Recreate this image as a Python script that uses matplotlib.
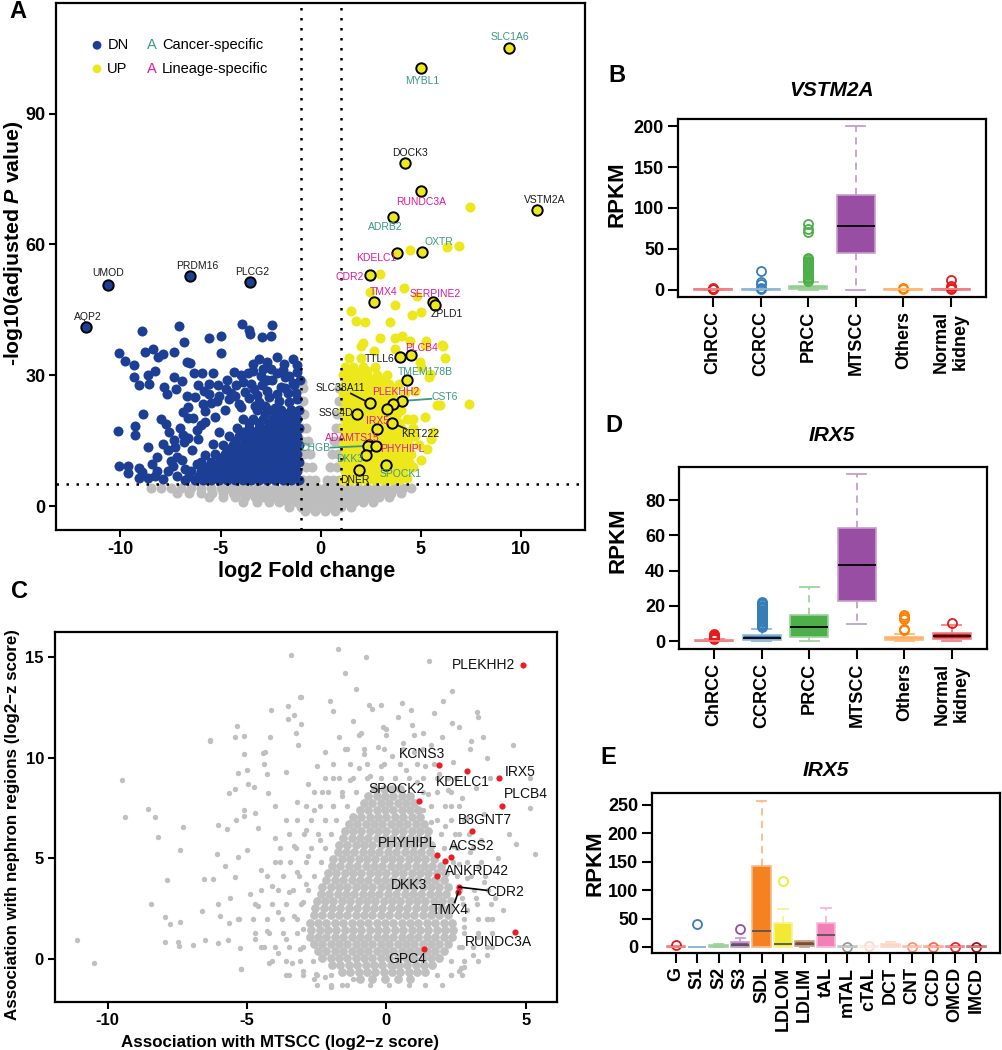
import matplotlib
matplotlib.use('Agg')
import matplotlib.pyplot as plt
from matplotlib.colors import to_rgb

plt.rcParams['font.family'] = ['Liberation Sans', 'DejaVu Sans']
plt.rcParams['axes.unicode_minus'] = False
plt.rcParams['mathtext.fontset'] = 'custom'
plt.rcParams['mathtext.it'] = 'Liberation Sans:italic:bold'
plt.rcParams['mathtext.rm'] = 'Liberation Sans:bold'

W, H = 1002, 1050

# ---------------- panel A: volcano (log2 FC, -log10 adj P) ----------------
dn_points = [(-7.09, 41.4), (-8.92, 40.1), (-3.95, 41.8), (-2.41, 41.6), (-3.57, 40.3), (-3.52, 39.4),
             (-2.94, 38.7), (-2.46, 39.0), (-4.98, 38.9), (-5.56, 38.5), (-6.83, 37.6), (-10.05, 35.0),
             (-9.75, 33.2), (-9.3, 32.4), (-8.77, 35.4), (-8.39, 36.0), (-8.14, 34.2), (-7.86, 34.8),
             (-7.31, 35.4), (-6.68, 33.0), (-6.54, 32.8), (-6.31, 30.5), (-5.95, 30.5), (-5.37, 30.5),
             (-4.98, 35.0), (-4.35, 30.7), (-3.99, 30.1), (-3.65, 30.5), (-3.37, 32.6), (-3.07, 33.8),
             (-2.66, 33.0), (-2.18, 34.2), (-1.83, 32.6), (-1.40, 33.8), (-1.33, 27.7), (-1.05, 28.9),
             (-9.3, 29.7), (-9.09, 27.7), (-8.64, 30.1), (-8.59, 28.1), (-8.26, 30.9), (-7.81, 27.3),
             (-7.67, 25.6), (-7.34, 29.7), (-7.23, 26.8), (-6.93, 28.6), (-6.69, 25.2), (-6.64, 22.7),
             (-6.15, 27.7), (-5.81, 26.4), (-5.56, 28.1), (-5.15, 27.8), (-4.73, 26.8), (-4.49, 26.0),
             (-4.24, 27.7), (-3.32, 26.8), (-2.91, 27.7), (-2.41, 28.9), (-2.0, 27.3), (-1.63, 26.0),
             (-1.23, 26.0), (-10.13, 17.2), (-9.25, 18.4), (-9.25, 16.2), (-8.89, 21.1), (-8.64, 13.6),
             (-10.05, 9.2), (-9.63, 9.2), (-9.6, 7.6), (-9.09, 8.7), (-9.09, 6.4), (-8.64, 6.5),
             (-8.42, 9.7), (-8.17, 11.3), (-8.17, 8.0), (-8.0, 19.9), (-7.72, 18.8), (-7.56, 17.0),
             (-7.61, 12.8), (-7.89, 14.2), (-7.64, 8.0), (-7.39, 9.2), (-7.31, 15.1), (-7.18, 11.3),
             (-7.04, 17.8), (-6.89, 21.5), (-6.64, 20.1), (-6.84, 14.6), (-6.61, 15.7), (-6.4, 20.3),
             (-6.45, 12.9), (-6.18, 9.7), (-6.15, 15.4), (-5.98, 18.5), (-5.76, 21.9), (-5.78, 11.7),
             (-5.48, 23.6), (-5.4, 14.2), (-5.07, 17.0), (-5.23, 8.0), (-4.6, 24.5), (-4.1, 23.5),
             (-3.6, 24.8), (-3.1, 23.8), (-2.6, 25.0), (-2.1, 24.2), (-1.6, 23.9), (-1.2, 24.5),
             (-3.9, 28.5), (-3.0, 29.8), (-2.2, 30.5), (-1.6, 29.8), (-1.2, 30.8), (-2.5, 31.5),
             (-3.5, 28.0), (-5.2, 24.0), (-5.9, 23.5), (-6.3, 25.0), (-4.8, 22.0), (-5.3, 20.5),
             (-5.8, 19.2), (-6.2, 17.5), (-6.9, 16.4), (-7.3, 13.5), (-6.95, 10.5), (-7.5, 10.4),
             (-7.9, 6.2), (-8.3, 7.0), (-8.9, 7.9), (-7.2, 7.0), (-6.8, 8.6), (-5.6, 25.8),
             (-3.3, 22.9), (-2.3, 22.6), (-4.3, 25.2), (-3.8, 26.2), (-3.2, 25.5), (-2.7, 26.5),
             (-2.2, 25.8), (-1.8, 27.0), (-1.4, 28.2), (-1.8, 29.5), (-2.7, 29.0), (-3.4, 30.9),
             (-4.7, 29.0), (-5.1, 25.3), (-4.0, 22.8), (-2.8, 23.0), (-1.5, 22.0), (-1.9, 31.2),
             (-1.2, 32.3), (-2.9, 31.5)]

dn_core_rows = [
    (6, [-1.1, -1.5, -1.9, -2.3, -2.7, -3.1, -3.5, -3.9, -4.3, -4.7, -5.1, -5.5, -5.9, -6.3, -6.8]),
    (7, [-1.3, -1.7, -2.1, -2.5, -2.9, -3.3, -3.7, -4.1, -4.5, -4.9, -5.3, -5.7, -6.1, -6.6]),
    (8, [-1.2, -1.6, -2.0, -2.4, -2.8, -3.2, -3.6, -4.0, -4.4, -4.8, -5.2, -5.6, -6.0, -6.5]),
    (9, [-1.3, -1.7, -2.1, -2.5, -2.9, -3.3, -3.7, -4.1, -4.5, -4.9, -5.3, -5.8]),
    (10, [-1.1, -1.5, -1.9, -2.3, -2.7, -3.1, -3.5, -3.9, -4.3, -4.7, -5.1, -5.5, -6.0]),
    (11, [-1.3, -1.7, -2.1, -2.5, -2.9, -3.3, -3.7, -4.1, -4.5, -5.0]),
    (12, [-1.2, -1.6, -2.0, -2.4, -2.8, -3.2, -3.6, -4.0, -4.4, -4.8, -5.3]),
    (13, [-1.3, -1.7, -2.1, -2.5, -2.9, -3.3, -3.7, -4.2, -4.7]),
    (14, [-1.1, -1.5, -1.9, -2.3, -2.7, -3.1, -3.5, -3.9, -4.4, -4.9]),
    (15, [-1.3, -1.7, -2.1, -2.5, -2.9, -3.3, -3.8, -4.3]),
    (16, [-1.2, -1.6, -2.0, -2.4, -2.8, -3.2, -3.6, -4.1, -4.6]),
    (17, [-1.3, -1.7, -2.1, -2.5, -2.9, -3.4, -3.9]),
    (18, [-1.1, -1.5, -1.9, -2.3, -2.7, -3.1, -3.6, -4.2]),
    (19, [-1.3, -1.7, -2.1, -2.6, -3.1, -3.6]),
    (20, [-1.2, -1.6, -2.0, -2.4, -2.9, -3.4, -3.9]),
    (21, [-1.3, -1.8, -2.3, -2.8]),
    (22, [-1.1, -1.5, -2.0, -2.6, -3.2]),
]

up_points = [(5.95, 23.1), (7.39, 23.3), (5.2, 20.5), (5.6, 17.0), (4.9, 14.0), (5.3, 13.0), (4.7, 26.5),
             (5.4, 29.5), (5.0, 32.0), (6.12, 36.8), (6.2, 34.0), (5.24, 37.8), (4.47, 37.8), (3.71, 38.6),
             (2.95, 38.6), (2.02, 36.7), (2.66, 35.5), (3.71, 36.1), (1.51, 44.8), (1.76, 42.4), (2.22, 42.2),
             (3.47, 42.3), (4.56, 43.9), (5.03, 44.5), (4.8, 48.1), (3.73, 46.1), (2.47, 49.1), (4.15, 50.0),
             (2.98, 53.3), (4.47, 58.7), (6.29, 59.4), (6.92, 59.6), (7.46, 68.7), (5.8, 23.2), (5.47, 30.4),
             (4.63, 20.0), (5.5, 15.3), (4.63, 16.1), (4.97, 33.1), (5.22, 37.0), (4.05, 39.0), (2.13, 37.4),
             (6.05, 37.0), (4.6, 9.0), (5.0, 10.5), (4.3, 6.5)]

up_core_rows = [
    (6, [1.1, 1.5, 1.9, 2.3, 2.7, 3.1, 3.5, 3.9]),
    (7, [1.3, 1.7, 2.1, 2.5, 2.9, 3.3, 3.7]),
    (8, [1.2, 1.6, 2.0, 2.4, 2.8, 3.2, 3.6, 4.1]),
    (9, [1.3, 1.7, 2.1, 2.5, 2.9, 3.3, 3.7, 4.2]),
    (10, [1.1, 1.5, 1.9, 2.3, 2.7, 3.1, 3.5, 3.9, 4.4]),
    (11, [1.3, 1.7, 2.1, 2.5, 2.9, 3.3, 3.8, 4.2]),
    (12, [1.2, 1.6, 2.0, 2.4, 2.8, 3.2, 3.6, 4.0, 4.5]),
    (13, [1.3, 1.7, 2.1, 2.5, 2.9, 3.3, 3.7, 4.2]),
    (14, [1.1, 1.5, 1.9, 2.3, 2.7, 3.1, 3.5, 3.9, 4.4]),
    (15, [1.3, 1.7, 2.1, 2.5, 2.9, 3.3, 3.8, 4.3]),
    (16, [1.2, 1.6, 2.0, 2.4, 2.8, 3.2, 3.6, 4.1, 4.7]),
    (17, [1.3, 1.7, 2.1, 2.5, 2.9, 3.3, 3.8, 4.3]),
    (18, [1.1, 1.5, 1.9, 2.3, 2.7, 3.1, 3.5, 4.0, 4.6]),
    (19, [1.3, 1.7, 2.1, 2.5, 2.9, 3.4, 3.9]),
    (20, [1.2, 1.6, 2.0, 2.4, 2.8, 3.2, 3.7, 4.3]),
    (21, [1.3, 1.7, 2.1, 2.5, 2.9, 3.3, 3.8]),
    (22, [1.1, 1.5, 1.9, 2.3, 2.7, 3.1, 3.5, 4.0]),
    (23, [1.3, 1.7, 2.1, 2.5, 3.0, 3.5]),
    (24, [1.2, 1.6, 2.0, 2.4, 2.8, 3.3, 3.8]),
    (25, [1.3, 1.7, 2.1, 2.5, 2.9, 3.4]),
    (26, [1.1, 1.5, 1.9, 2.3, 2.7, 3.1, 3.6, 4.2]),
    (27, [1.3, 1.7, 2.1, 2.5, 3.0, 3.6]),
    (28, [1.2, 1.6, 2.0, 2.4, 2.9, 3.4, 3.9]),
    (29, [1.3, 1.7, 2.1, 2.6, 3.1]),
    (30, [1.1, 1.5, 1.9, 2.3, 2.8, 3.3]),
    (31, [1.3, 1.7, 2.3]),
    (32, [1.2, 1.6, 2.1, 2.7]),
    (34, [1.4, 2.0]),
]

ns_rows = [
    (4.2, [-8.5, -8.0, -7.5, -7.0, -6.5, -6.0, -5.5, -5.0, -4.55, -4.1, -3.65, -3.2, -2.75, -2.3, -1.85, -1.4,
           -0.95, -0.55, -0.2, 0.2, 0.55, 0.95, 1.4, 1.85, 2.3, 2.75, 3.2, 3.65, 4.1, 4.5]),
    (3.1, [-7.2, -6.6, -6.0, -5.45, -4.9, -4.4, -3.9, -3.45, -3.0, -2.55, -2.1, -1.65, -1.2, -0.75, -0.35, 0.0,
           0.35, 0.75, 1.2, 1.65, 2.1, 2.55, 3.0, 3.5, 4.0]),
    (2.0, [-5.6, -4.9, -4.3, -3.8, -3.3, -2.85, -2.4, -1.95, -1.5, -1.05, -0.6, -0.2, 0.2, 0.6, 1.05, 1.5,
           1.95, 2.4, 2.9, 3.4]),
    (0.9, [-3.9, -3.2, -2.6, -2.1, -1.65, -1.2, -0.8, -0.4, 0.0, 0.4, 0.8, 1.2, 1.65, 2.1, 2.6]),
    (-0.2, [-1.6, -1.0, -0.5, 0.0, 0.5, 1.0, 1.5]),
    (-1.2, [-0.8, -0.3, 0.2, 0.7]),
]
ns_points = [(-0.3, 6), (-0.6, 6), (-0.9, 6), (-0.45, 9), (-0.75, 9), (-0.55, 12), (-0.85, 12), (-0.65, 15),
             (-0.92, 15), (-0.75, 18), (-0.95, 18), (-0.85, 21), (-0.9, 24), (-0.88, 27), (-0.92, 28.5),
             (0.3, 6), (0.6, 6), (0.9, 6), (0.45, 9), (0.8, 9), (0.55, 12), (0.85, 12), (0.65, 15), (0.9, 15),
             (0.75, 18), (0.95, 18), (0.82, 21), (0.9, 24), (0.92, 27)]

dn_genes = ['UMOD', 'PRDM16', 'PLCG2', 'AQP2']
dn_fc = [-10.63, -6.51, -3.52, -11.7]
dn_p = [50.8, 52.8, 51.4, 41.1]

up_genes = ['SLC1A6', 'MYBL1', 'DOCK3', 'RUNDC3A', 'VSTM2A', 'ADRB2', 'OXTR', 'KDELC1', 'CDR2', 'TMX4',
            'SERPINE2', 'ZPLD1', 'PLCB4', 'TTLL6', 'TMEM178B', 'CST6', 'PLEKHH2', '', 'SLC38A11', 'SSC4D',
            'KRT222', 'IRX5', 'ADAMTS15', 'CHGB', 'PHYHIPL', 'DKK3', 'DNER', 'SPOCK1']
up_fc = [9.42, 5.0, 4.22, 5.03, 10.8, 3.62, 5.05, 3.82, 2.45, 2.68, 5.6, 5.71, 4.5, 3.96, 4.3, 4.07, 3.6, 3.3,
         2.45, 1.79, 3.56, 2.83, 2.43, 2.38, 2.74, 2.24, 1.89, 3.26]
up_p = [105.1, 100.5, 78.6, 72.2, 67.9, 66.4, 58.3, 58.0, 53.0, 46.8, 46.8, 46.1, 34.7, 34.1, 28.9, 24.1, 23.4,
        22.3, 23.6, 21.0, 19.1, 17.7, 14.0, 13.8, 13.8, 11.6, 8.3, 9.35]
up_class = ['cancer', 'cancer', 'none', 'lineage', 'none', 'cancer', 'cancer', 'lineage', 'lineage', 'lineage',
            'lineage', 'none', 'lineage', 'none', 'cancer', 'cancer', 'lineage', 'none', 'none', 'none',
            'none', 'lineage', 'lineage', 'cancer', 'lineage', 'cancer', 'none', 'cancer']

# ---------------- panel C: association scatter ----------------
assoc_outer = [(-11.1, 0.91), (-10.48, -0.22), (-9.5, 8.87), (-9.38, 7.04), (-8.57, 7.46), (-8.3, 7.04),
               (-8.18, 6.05), (-8.45, 2.73), (-7.88, 3.93), (-7.96, 2.07), (-7.75, 1.74), (-7.4, 1.81),
               (-7.94, 0.81), (-7.48, 0.81), (-7.45, 0.61), (-6.94, 0.66), (-7.28, 6.55), (-7.4, 5.42),
               (-6.32, 10.86), (-6.62, 2.35), (-6.5, 0.91), (-6.53, 3.96), (-6.22, 3.98), (-6.07, 5.22),
               (-6.05, 6.63), (-5.72, 6.45), (-5.66, 8.24), (-5.42, 8.45), (-5.36, 11.55), (-5.44, 11.02),
               (-5.32, 9.23), (-5.1, 10.19), (-5.0, 9.37), (-4.96, 8.7), (-6.05, 2.73), (-5.96, 2.1),
               (-5.66, 1.77), (-5.34, 1.97), (-6.05, 0.78), (-5.68, 0.94), (-5.26, 0.53), (-5.22, -0.5),
               (-5.42, 4.06), (-5.34, 5.06), (-5.38, 6.91), (-5.12, 7.38), (-4.76, 8.54), (-4.7, 7.24),
               (-4.34, 10.26), (-4.38, 9.7), (-4.28, 9.2), (-4.24, 8.24), (-4.16, 11.02), (-4.14, 12.38),
               (-3.54, 12.58), (-3.44, 15.08), (-3.32, 12.1), (-3.23, 11.22), (-3.17, 10.64), (-3.05, 11.69),
               (-3.08, 13.01), (-1.74, 15.39), (-0.73, 15.0), (1.54, 14.8), (-1.1, 13.4), (2.34, 13.3),
               (-3.09, 13.0), (-2.02, 12.8), (-0.62, 12.6), (-0.19, 12.6), (0.55, 12.7), (2.03, 12.8),
               (3.26, 12.27), (0.89, 12.37), (-1.92, 12.3), (-3.54, 11.9), (-0.14, 11.5), (2.34, 11.7),
               (4.53, 10.6), (3.46, 11.0), (3.02, 10.8), (-6.33, 10.8), (-5.1, 11.05), (-4.41, 10.25),
               (5.15, 9.0), (5.15, 7.49), (5.32, 5.23), (4.66, 5.72), (3.63, 2.0), (3.6, 0.2), (2.66, -0.44),
               (-1.99, -1.4), (0.27, -0.35), (-1.03, -1.02), (-5.22, -0.49), (-2.54, -0.78), (-1.5, 14.2)]

assoc_mid = [(-3.0, -0.6), (-3.4, -0.2), (-3.9, 0.3), (-3.1, 0.5), (-3.6, 1.0), (-4.3, 1.4), (-3.0, 1.5),
             (-3.3, 2.1), (-3.9, 2.3), (-4.6, 2.6), (-3.0, 2.8), (-3.5, 3.3), (-4.1, 3.6), (-2.9, 3.7),
             (-3.2, 4.3), (-3.8, 4.8), (-4.5, 4.4), (-2.8, 5.1), (-3.3, 5.6), (-2.4, 5.9), (-4.0, 6.0),
             (-2.9, 6.4), (-3.6, 6.9), (-2.2, 6.9), (-2.6, 7.4), (-3.2, 7.8), (-1.9, 7.6), (-2.3, 8.3),
             (-2.8, 8.7), (-1.6, 8.1), (-1.9, 9.0), (-1.3, 8.9), (-2.5, 9.6), (-3.6, 9.3), (-4.0, 7.6),
             (-4.6, 6.5), (-5.0, 5.4), (-4.9, 3.2), (-5.3, 2.0), (-4.7, 1.0), (-4.2, -0.2), (-3.6, -0.8),
             (-2.6, -1.0), (-2.2, -0.9), (-1.6, -1.3), (-1.2, -1.0), (-4.4, 0.6), (-5.6, 3.0), (-5.8, 4.6),
             (-5.1, 7.1), (-1.0, 9.5), (-0.6, 9.1), (-0.2, 9.6), (0.3, 9.0), (0.7, 9.4), (1.1, 8.8),
             (1.4, 9.6), (-0.8, 10.2), (-0.3, 10.5), (0.2, 10.1), (0.6, 10.7), (1.0, 10.3), (1.6, 10.6),
             (-1.4, 10.4), (-1.7, 11.0), (-0.9, 11.2), (0.0, 11.4), (0.9, 11.6), (1.3, 11.2), (2.0, 11.0),
             (-2.2, 10.3), (-1.2, 11.8), (0.4, 12.0), (1.7, 12.2), (-0.5, 12.4), (2.4, 9.8), (1.9, 9.2),
             (2.2, 8.4), (1.5, 8.2), (1.3, 7.4), (1.6, 6.8), (2.6, -0.6), (2.8, -0.4), (2.3, -0.8),
             (3.1, 0.2), (2.7, 0.6), (3.3, 1.1), (2.8, 1.6), (3.6, 2.0), (2.9, 2.4), (3.2, 3.0), (2.7, 3.0),
             (3.5, 3.8), (2.9, 4.0), (3.3, 4.6), (2.6, 4.7), (3.0, 5.3), (2.4, 5.6), (3.4, 5.9), (2.6, 6.2),
             (2.1, 6.6), (2.9, 7.0), (3.5, 7.2), (2.3, 7.6), (2.7, 8.0), (3.2, 8.5), (2.5, 9.0), (3.7, 9.0),
             (3.9, 3.0), (4.2, 2.4), (3.8, 0.6), (4.0, 5.0), (4.4, 6.2), (3.6, 10.0), (3.0, 10.4),
             (2.6, 11.5), (3.3, 12.0)]

assoc_ring_rows = [
    (-1.3, [-2.5, -2.0, -1.4, -0.6, 0.1, 0.8, 1.4, 2.0]),
    (-0.8, [-3.5, -3.0, -2.5, -2.0, 1.8, 2.3, 2.7]),
    (-0.1, [-4.1, -3.6, -3.1, -2.65, 2.3, 2.8, 3.3]),
    (0.6, [-4.5, -4.0, -3.5, -3.0, 2.6, 3.1, 3.6]),
    (1.3, [-4.7, -4.2, -3.7, -3.2, 2.8, 3.3, 3.8]),
    (2.0, [-4.8, -4.3, -3.75, -3.2, 2.8, 3.3, 3.8]),
    (2.7, [-4.7, -4.1, -3.6, -3.05, 2.75, 3.25, 3.75]),
    (3.4, [-4.5, -3.9, -3.35, -2.8, 2.65, 3.15, 3.65]),
    (4.1, [-4.3, -3.7, -3.15, -2.6, 2.55, 3.05, 3.55]),
    (4.8, [-4.0, -3.45, -2.9, -2.35, 2.4, 2.9, 3.4]),
    (5.5, [-3.8, -3.25, -2.7, -2.2, 2.05, 2.55, 3.1]),
    (6.2, [-3.5, -2.95, -2.45, -2.0, 1.95, 2.45, 2.95]),
    (6.9, [-3.2, -2.7, -2.2, -1.8, 1.8, 2.3, 2.8]),
    (7.6, [-2.9, -2.4, -1.9, -1.4, 1.6, 2.1, 2.6]),
    (8.3, [-2.6, -2.1, -1.6, -1.1, 1.3, 1.8, 2.3]),
    (9.0, [-2.2, -1.7, -1.2, -0.7, -0.2, 0.3, 0.8, 1.3, 1.8, 2.2]),
    (9.7, [-1.9, -1.3, -0.7, -0.1, 0.5, 1.1, 1.7]),
    (10.4, [-1.5, -0.8, -0.1, 0.6, 1.3]),
    (11.1, [-1.0, 0.0, 1.0]),
]

assoc_core_rows = [
    (-1.0, [-0.95, -0.5, -0.05, 0.4, 0.85]),
    (-0.65, [-1.6, -1.3, -1.0, -0.7, -0.4, -0.1, 0.2, 0.5, 0.8, 1.1, 1.4]),
    (-0.3, [-1.95, -1.65, -1.35, -1.05, -0.75, -0.45, -0.15, 0.15, 0.45, 0.75, 1.05, 1.35, 1.65]),
    (0.05, [-2.3, -2.0, -1.7, -1.4, -1.1, -0.8, -0.5, -0.2, 0.1, 0.4, 0.7, 1.0, 1.3, 1.6, 1.9]),
    (0.4, [-2.45, -2.15, -1.85, -1.55, -1.25, -0.95, -0.65, -0.35, -0.05, 0.25, 0.55, 0.85, 1.15, 1.45, 1.75, 2.05]),
    (0.75, [-2.6, -2.3, -2.0, -1.7, -1.4, -1.1, -0.8, -0.5, -0.2, 0.1, 0.4, 0.7, 1.0, 1.3, 1.6, 1.9, 2.2]),
    (1.1, [-2.75, -2.45, -2.15, -1.85, -1.55, -1.25, -0.95, -0.65, -0.35, -0.05, 0.25, 0.55, 0.85, 1.15, 1.45,
           1.75, 2.05, 2.35]),
    (1.45, [-2.7, -2.4, -2.1, -1.8, -1.5, -1.2, -0.9, -0.6, -0.3, 0.0, 0.3, 0.6, 0.9, 1.2, 1.5, 1.8, 2.1, 2.4]),
    (1.8, [-2.75, -2.45, -2.15, -1.85, -1.55, -1.25, -0.95, -0.65, -0.35, -0.05, 0.25, 0.55, 0.85, 1.15, 1.45,
           1.75, 2.05, 2.35]),
    (2.15, [-2.6, -2.3, -2.0, -1.7, -1.4, -1.1, -0.8, -0.5, -0.2, 0.1, 0.4, 0.7, 1.0, 1.3, 1.6, 1.9, 2.2]),
    (2.5, [-2.55, -2.25, -1.95, -1.65, -1.35, -1.05, -0.75, -0.45, -0.15, 0.15, 0.45, 0.75, 1.05, 1.35, 1.65,
           1.95, 2.25]),
    (2.85, [-2.5, -2.2, -1.9, -1.6, -1.3, -1.0, -0.7, -0.4, -0.1, 0.2, 0.5, 0.8, 1.1, 1.4, 1.7, 2.0, 2.3]),
    (3.2, [-2.35, -2.05, -1.75, -1.45, -1.15, -0.85, -0.55, -0.25, 0.05, 0.35, 0.65, 0.95, 1.25, 1.55, 1.85, 2.15]),
    (3.55, [-2.3, -2.0, -1.7, -1.4, -1.1, -0.8, -0.5, -0.2, 0.1, 0.4, 0.7, 1.0, 1.3, 1.6, 1.9, 2.2]),
    (3.9, [-2.15, -1.85, -1.55, -1.25, -0.95, -0.65, -0.35, -0.05, 0.25, 0.55, 0.85, 1.15, 1.45, 1.75, 2.05]),
    (4.25, [-2.1, -1.8, -1.5, -1.2, -0.9, -0.6, -0.3, 0.0, 0.3, 0.6, 0.9, 1.2, 1.5, 1.8, 2.1]),
    (4.6, [-1.95, -1.65, -1.35, -1.05, -0.75, -0.45, -0.15, 0.15, 0.45, 0.75, 1.05, 1.35, 1.65, 1.95]),
    (4.95, [-1.9, -1.6, -1.3, -1.0, -0.7, -0.4, -0.1, 0.2, 0.5, 0.8, 1.1, 1.4, 1.7]),
    (5.3, [-1.75, -1.45, -1.15, -0.85, -0.55, -0.25, 0.05, 0.35, 0.65, 0.95, 1.25, 1.55]),
    (5.65, [-1.7, -1.4, -1.1, -0.8, -0.5, -0.2, 0.1, 0.4, 0.7, 1.0, 1.3, 1.6]),
    (6.0, [-1.55, -1.25, -0.95, -0.65, -0.35, -0.05, 0.25, 0.55, 0.85, 1.15, 1.45]),
    (6.35, [-1.5, -1.2, -0.9, -0.6, -0.3, 0.0, 0.3, 0.6, 0.9, 1.2, 1.5]),
    (6.7, [-1.35, -1.05, -0.75, -0.45, -0.15, 0.15, 0.45, 0.75, 1.05, 1.35]),
    (7.05, [-1.2, -0.9, -0.6, -0.3, 0.0, 0.3, 0.6, 0.9, 1.2]),
    (7.4, [-0.95, -0.65, -0.35, -0.05, 0.25, 0.55, 0.85, 1.15]),
    (7.75, [-0.8, -0.5, -0.2, 0.1, 0.4, 0.7, 1.0]),
    (8.1, [-0.65, -0.35, -0.05, 0.25, 0.55, 0.85]),
    (8.45, [-0.4, -0.1, 0.2, 0.5]),
]

assoc_genes = ['PLEKHH2', 'KCNS3', 'KDELC1', 'IRX5', 'PLCB4', 'SPOCK2', 'B3GNT7', 'PHYHIPL', 'ACSS2',
               'ANKRD42', 'DKK3', 'CDR2', 'TMX4', 'RUNDC3A', 'GPC4']
assoc_mtscc = [4.9, 1.89, 2.9, 4.04, 4.13, 1.18, 3.08, 1.81, 2.32, 2.11, 1.81, 2.61, 2.58, 4.61, 1.35]
assoc_nephron = [14.6, 9.63, 9.32, 8.98, 7.61, 7.86, 6.37, 5.14, 5.04, 4.87, 4.09, 3.56, 3.32, 1.33, 0.5]

# ---------------- panels B/D: tumour types ----------------
tumor_types = ['ChRCC', 'CCRCC', 'PRCC', 'MTSCC', 'Others', 'Normal\nkidney']
tumor_colors = ['#e41a1c', '#377eb8', '#4daf4a', '#984ea3', '#ff7f00', '#e41a1c']

vstm2a_q1 = [0, 0, 0.2, 45, 0, 0]
vstm2a_med = [0.1, 0.2, 1.5, 78, 0.1, 0.2]
vstm2a_q3 = [0.4, 0.6, 4.0, 116, 0.4, 0.6]
vstm2a_lo = [0, 0, 0, 0, 0, 0]
vstm2a_hi = [0.9, 1.2, 9.5, 201, 0.8, 1.3]
vstm2a_out = [[0.3, 1.0, 1.6], [0.8, 2.5, 7.4, 9.8, 23],
              [11, 12.7, 14, 15.6, 17.6, 19.5, 21.7, 23, 24.6, 26, 27.9, 29.5, 31.1, 32.5, 34, 35.5, 37.3, 38.1,
               70.9, 73.8, 80.3],
              [], [0.6, 1.5], [0.8, 2.5, 4.1, 11.5]]

irx5_q1 = [0.1, 0.8, 2.2, 23, 0.6, 1.5]
irx5_med = [0.3, 1.8, 8.2, 43, 1.2, 2.7]
irx5_q3 = [0.6, 3.5, 15.0, 64, 2.3, 4.8]
irx5_lo = [0, 0, 0, 10, 0, 0]
irx5_hi = [1.2, 7.0, 30.5, 94.5, 4.0, 9.2]
irx5_out = [[1.5, 2.0, 2.5, 3.0, 3.5, 4.0],
            [7.8, 8.5, 9.2, 10, 10.8, 11.5, 12.3, 13, 13.8, 14.6, 15.4, 16.2, 17, 17.8, 18.6, 19.4, 20.2, 21,
             21.8, 22.5],
            [], [], [6.3, 6.9, 12.8, 13.7, 14.6], [10.1]]

# ---------------- panel E: nephron segments ----------------
segments = ['G', 'S1', 'S2', 'S3', 'SDL', 'LDLOM', 'LDLIM', 'tAL', 'mTAL', 'cTAL', 'DCT', 'CNT', 'CCD',
            'OMCD', 'IMCD']
segment_colors = ['#e41a1c', '#377eb8', '#4daf4a', '#984ea3', '#f58220', '#f2e935', '#a65628', '#f27fb8',
                  '#999999', '#fdd9cc', '#fcbba1', '#fc9272', '#fb6a4a', '#e32a2d', '#a50f15']
seg_q1 = [0, 0, 0, 0, 0, 0, 1, 0, 0, 0, 0, 0, 0, 0, 0]
seg_med = [0.5, 0.2, 1.5, 3, 28, 5, 6, 21, 0.3, 0.5, 2, 0.3, 0.3, 0.3, 0.3]
seg_q3 = [1, 0.5, 4, 9, 142, 42, 10, 42, 1, 1.5, 5, 1, 1, 1, 1]
seg_lo = [0] * 15
seg_hi = [1.5, 0.8, 5, 15, 257, 66, 11, 69, 1.5, 2, 8, 1.5, 1.5, 1.5, 1.5]
seg_out = [[4], [40], [], [31], [], [116], [], [], [0.5], [1.5], [], [0.5], [0.5], [0.5], [0.5]]


def px_axes(left, top, right, bottom):
    return fig.add_axes([left / W, 1 - bottom / H, (right - left) / W, (bottom - top) / H])


def fig_text(x, y, s, **kw):
    fig.text(x / W, 1 - y / H, s, **kw)


def rows_to_xy(rows):
    xs, ys = [], []
    for y, row in rows:
        xs += row
        ys += [y] * len(row)
    return xs, ys


def lighten(c, f=0.45):
    return tuple(v + (1 - v) * f for v in to_rgb(c))


def style_axes(ax, size, ticklen=6):
    for s in ax.spines.values():
        s.set_linewidth(1.6)
    ax.tick_params(direction='out', length=ticklen, width=1.5, labelsize=size, pad=3)
    for lbl in ax.get_xticklabels() + ax.get_yticklabels():
        lbl.set_fontweight('bold')


def draw_boxes(ax, q1, med, q3, lo, hi, out, colors, width, yspan, med_color):
    stats = [dict(q1=a, med=m, q3=b, whislo=l, whishi=h, fliers=f)
             for a, m, b, l, h, f in zip(q1, med, q3, lo, hi, out)]
    n = len(stats)
    bp = ax.bxp(stats, positions=range(1, n + 1), widths=width, patch_artist=True,
                capwidths=width * 0.5, manage_ticks=False)
    for i, c in enumerate(colors):
        light = lighten(c)
        bp['boxes'][i].set(facecolor=c, edgecolor=light, linewidth=1.2)
        for k in (2 * i, 2 * i + 1):
            bp['whiskers'][k].set(color=light, linestyle=(0, (4, 3)), linewidth=1.3)
            bp['caps'][k].set(color=light, linewidth=1.3)
        big = (q3[i] - q1[i]) > 0.02 * yspan
        bp['medians'][i].set(color=med_color if big else light, linewidth=1.3)
        bp['fliers'][i].set(marker='o', markerfacecolor='none', markeredgecolor=c,
                            markersize=6.5, markeredgewidth=1.3)


fig = plt.figure(figsize=(W / 100, H / 100), dpi=100)

# ---- A ----
blue, yellow, grey = '#1c3f95', '#ede81c', '#bdbdbd'
green_txt, pink_txt = '#3a9a82', '#e0189c'
class_color = {'cancer': green_txt, 'lineage': pink_txt, 'none': '#1a1a1a'}
dot = 52

axA = px_axes(56.4, 3, 585, 530)
nx, ny = rows_to_xy(ns_rows)
nx += [p[0] for p in ns_points]
ny += [p[1] for p in ns_points]
axA.scatter(nx, ny, s=dot, color=grey, linewidths=0, zorder=1)
dx, dy = rows_to_xy(dn_core_rows)
dx += [p[0] for p in dn_points]
dy += [p[1] for p in dn_points]
axA.scatter(dx, dy, s=dot, color=blue, linewidths=0, zorder=2)
ux, uy = rows_to_xy(up_core_rows)
ux += [p[0] for p in up_points]
uy += [p[1] for p in up_points]
axA.scatter(ux, uy, s=dot, color=yellow, linewidths=0, zorder=2)
axA.scatter(dn_fc, dn_p, s=56, color=blue, edgecolors='black', linewidths=1.4, zorder=4)
axA.scatter(up_fc, up_p, s=56, color=yellow, edgecolors='black', linewidths=1.4, zorder=4)

axA.axvline(-1, color='black', lw=1.8, ls=(0, (1, 3)), zorder=3)
axA.axvline(1, color='black', lw=1.8, ls=(0, (1, 3)), zorder=3)
axA.axhline(5, color='black', lw=1.8, ls=(0, (1, 3)), zorder=3)

dn_text_pos = {'UMOD': (-10.63, 53.4), 'PRDM16': (-6.15, 55.1), 'PLCG2': (-3.4, 53.7), 'AQP2': (-11.63, 43.4)}
for g in dn_genes:
    tx, ty = dn_text_pos[g]
    axA.text(tx, ty, g, fontsize=7.5, ha='center', va='center', color='#1a1a1a', zorder=5)

up_text_pos = {
    'SLC1A6': (9.44, 107.6), 'MYBL1': (5.06, 97.4), 'DOCK3': (4.47, 81.1), 'RUNDC3A': (5.03, 69.7),
    'VSTM2A': (11.17, 70.3), 'ADRB2': (3.25, 63.9), 'OXTR': (5.88, 60.5), 'KDELC1': (2.78, 56.8),
    'CDR2': (1.47, 52.5), 'TMX4': (3.12, 49.1), 'SERPINE2': (5.71, 48.7), 'ZPLD1': (6.31, 44.1),
    'PLCB4': (5.02, 36.3), 'TTLL6': (2.95, 33.8), 'TMEM178B': (5.24, 30.8), 'CST6': (6.17, 25.1),
    'PLEKHH2': (3.76, 26.1), 'SLC38A11': (1.0, 27.1), 'SSC4D': (0.75, 21.4), 'KRT222': (4.98, 16.5),
    'IRX5': (2.86, 19.4), 'ADAMTS15': (1.59, 15.7), 'CHGB': (-0.27, 13.2), 'PHYHIPL': (4.08, 13.0),
    'DKK3': (1.42, 10.7), 'DNER': (1.71, 6.0), 'SPOCK1': (3.97, 7.4)}
up_lines = {'CST6': (5.53, 24.6), 'SLC38A11': (1.51, 25.8), 'KRT222': (4.25, 17.7), 'CHGB': (0.49, 13.4)}
for g, fc, p, cl in zip(up_genes, up_fc, up_p, up_class):
    if not g:
        continue
    tx, ty = up_text_pos[g]
    axA.text(tx, ty, g, fontsize=7.5, ha='center', va='center', color=class_color[cl], zorder=5)
    if g in up_lines:
        lx, ly = up_lines[g]
        axA.plot([lx, fc], [ly, p], color=class_color[cl], lw=1.3, zorder=3)

# legend
axA.scatter([-11.17, -11.17], [105.7, 100.3], s=40, color=[blue, yellow], linewidths=0, zorder=5)
axA.text(-10.66, 105.7, 'DN', fontsize=10.5, va='center', ha='left')
axA.text(-10.66, 100.3, 'UP', fontsize=10.5, va='center', ha='left')
axA.text(-8.41, 105.7, 'A', fontsize=10.5, va='center', ha='center', color=green_txt)
axA.text(-8.41, 100.3, 'A', fontsize=10.5, va='center', ha='center', color=pink_txt)
axA.text(-7.92, 105.7, 'Cancer-specific', fontsize=10.5, va='center', ha='left')
axA.text(-7.92, 100.3, 'Lineage-specific', fontsize=10.5, va='center', ha='left')

axA.set_xlim(-13.2, 13.2)
axA.set_ylim(-5.5, 115.4)
axA.set_xticks([-10, -5, 0, 5, 10])
axA.set_yticks([0, 30, 60, 90])
style_axes(axA, 13, 5)
fig_text(307, 572, 'log2 Fold change', fontsize=15.5, fontweight='bold', ha='center', va='center')
fig_text(14, 243, '-log10(adjusted $P$ value)', fontsize=15.3, fontweight='bold', ha='center', va='center',
         rotation=90)

# ---- C ----
axC = px_axes(55, 632, 557, 1002)
c_grey = '#c0c0c0'
rx, ry = rows_to_xy(assoc_ring_rows)
rx += [p[0] for p in assoc_mid + assoc_outer]
ry += [p[1] for p in assoc_mid + assoc_outer]
axC.scatter(rx, ry, s=15, color=c_grey, linewidths=0, zorder=1)
cx, cy = rows_to_xy(assoc_core_rows)
axC.scatter(cx, cy, s=40, color=c_grey, linewidths=0, zorder=1)
axC.scatter(assoc_mtscc, assoc_nephron, s=20, color='#ee1c25', linewidths=0, zorder=3)
c_text_pos = {'PLEKHH2': (3.49, 14.6), 'KCNS3': (1.29, 10.2), 'KDELC1': (2.74, 8.77), 'IRX5': (4.81, 9.27),
              'PLCB4': (5.02, 8.19), 'SPOCK2': (0.35, 8.44), 'B3GNT7': (3.54, 6.91), 'PHYHIPL': (0.76, 5.75),
              'ACSS2': (3.06, 5.59), 'ANKRD42': (3.24, 4.38), 'DKK3': (0.8, 3.65), 'CDR2': (4.27, 3.3),
              'TMX4': (2.29, 2.44), 'RUNDC3A': (4.01, 0.83), 'GPC4': (0.74, 0.0)}
c_lines = {'CDR2': (3.6, 3.4), 'TMX4': (2.45, 2.8)}
for g, gx, gy in zip(assoc_genes, assoc_mtscc, assoc_nephron):
    tx, ty = c_text_pos[g]
    axC.text(tx, ty, g, fontsize=10, ha='center', va='center', color='#111111', zorder=4)
    if g in c_lines:
        lx, ly = c_lines[g]
        axC.plot([gx, lx], [gy, ly], color='black', lw=1.2, zorder=4)
axC.set_xlim(-11.89, 6.12)
axC.set_ylim(-2.15, 16.24)
axC.set_xticks([-10, -5, 0, 5])
axC.set_yticks([0, 5, 10, 15])
style_axes(axC, 12, 5)
fig_text(280, 1042, 'Association with MTSCC (log2\u2212z score)', fontsize=12.2, fontweight='bold',
         ha='center', va='center')
fig_text(13, 825, 'Association with nephron regions (log2\u2212z score)', fontsize=12.2, fontweight='bold',
         ha='center', va='center', rotation=90)

# ---- B ----
axB = px_axes(678, 119, 986, 297)
draw_boxes(axB, vstm2a_q1, vstm2a_med, vstm2a_q3, vstm2a_lo, vstm2a_hi, vstm2a_out, tumor_colors, 0.8,
           218, 'black')
axB.set_xlim(0.26, 6.74)
axB.set_ylim(-9.1, 209)
axB.set_yticks([0, 50, 100, 150, 200])
axB.set_xticks(range(1, 7))
axB.set_xticklabels(tumor_types, rotation=90, fontsize=13)
style_axes(axB, 13, 7)

# ---- D ----
axD = px_axes(679, 467, 987, 649)
draw_boxes(axD, irx5_q1, irx5_med, irx5_q3, irx5_lo, irx5_hi, irx5_out, tumor_colors, 0.8, 103, 'black')
axD.set_xlim(0.26, 6.74)
axD.set_ylim(-4.4, 98.7)
axD.set_yticks([0, 20, 40, 60, 80])
axD.set_xticks(range(1, 7))
axD.set_xticklabels(tumor_types, rotation=90, fontsize=13)
style_axes(axD, 13, 7)

# ---- E ----
axE = px_axes(652, 793, 1000, 953)
draw_boxes(axE, seg_q1, seg_med, seg_q3, seg_lo, seg_hi, seg_out, segment_colors, 0.85, 281, '#555555')
axE.set_xlim(-0.1, 16.1)
axE.set_ylim(-10.6, 270.6)
axE.set_yticks([0, 50, 100, 150, 200, 250])
axE.set_xticks(range(1, 16))
axE.set_xticklabels(segments, rotation=90, fontsize=12.5)
style_axes(axE, 13, 7)

for x, y, s in [(617, 194, 'RPKM'), (618, 540, 'RPKM'), (595, 863, 'RPKM')]:
    fig_text(x, y, s, fontsize=16, fontweight='bold', ha='center', va='center', rotation=90)
for x, y, s in [(832, 90, 'VSTM2A'), (832, 435, 'IRX5'), (826, 770, 'IRX5')]:
    fig_text(x, y, s, fontsize=15, fontweight='bold', style='italic', ha='center', va='center')
for x, y, s in [(18, 11, 'A'), (19, 592, 'C'), (617, 75, 'B'), (614, 425, 'D'), (608, 757, 'E')]:
    fig_text(x, y, s, fontsize=17, fontweight='bold', ha='center', va='center')

fig.savefig('out.png', dpi=100)
